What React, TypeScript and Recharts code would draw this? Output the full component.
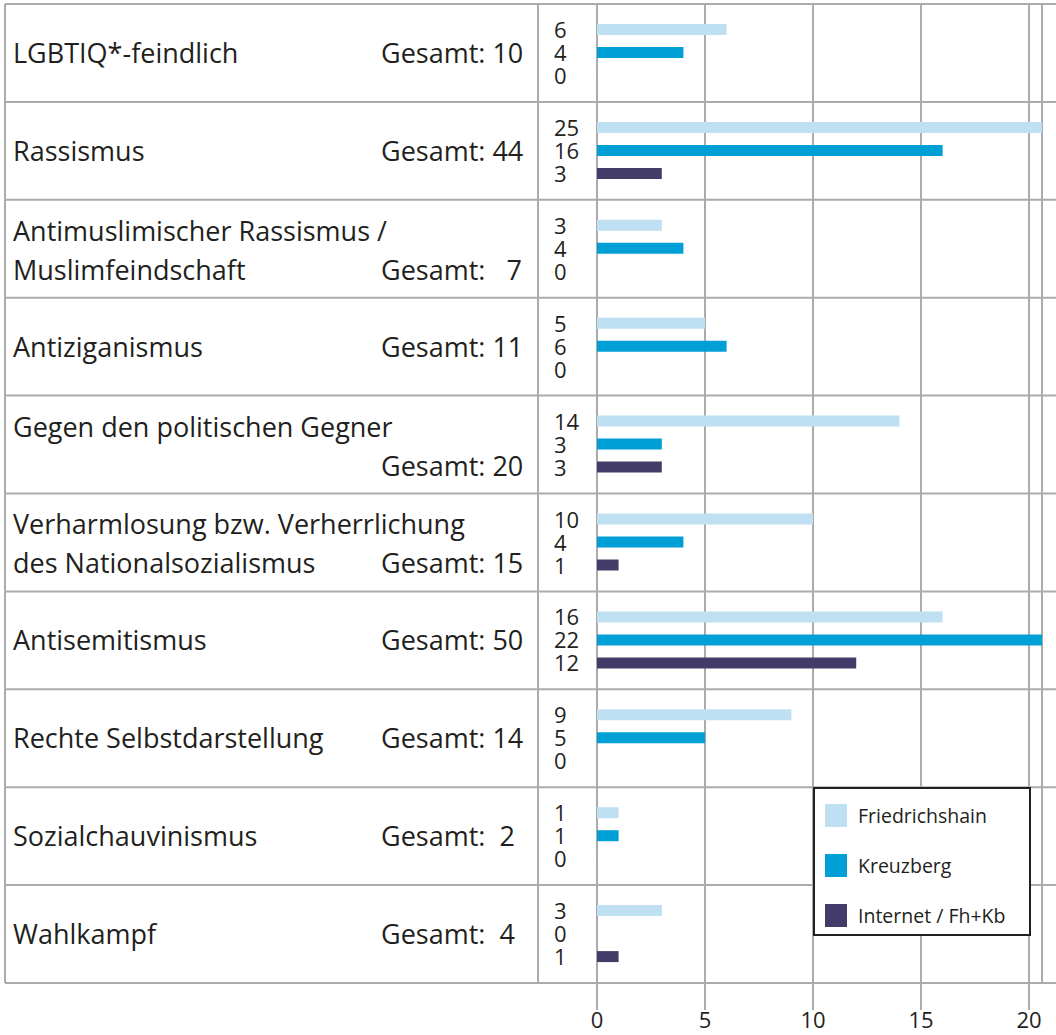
import React from 'react';
import { BarChart, Bar, XAxis, YAxis, CartesianGrid, Legend, LabelList } from 'recharts';

// categories, label lines as printed in the table on the left
const categories = [
    'LGBTIQ*-feindlich',
    'Rassismus',
    'Antimuslimischer Rassismus / Muslimfeindschaft',
    'Antiziganismus',
    'Gegen den politischen Gegner',
    'Verharmlosung bzw. Verherrlichung des Nationalsozialismus',
    'Antisemitismus',
    'Rechte Selbstdarstellung',
    'Sozialchauvinismus',
    'Wahlkampf',
];

const categoryLines = [
    ['LGBTIQ*-feindlich'],
    ['Rassismus'],
    ['Antimuslimischer Rassismus /', 'Muslimfeindschaft'],
    ['Antiziganismus'],
    ['Gegen den politischen Gegner', ''],
    ['Verharmlosung bzw. Verherrlichung', 'des Nationalsozialismus'],
    ['Antisemitismus'],
    ['Rechte Selbstdarstellung'],
    ['Sozialchauvinismus'],
    ['Wahlkampf'],
];

const totalLabels = [
    'Gesamt: 10',
    'Gesamt: 44',
    'Gesamt:   7',
    'Gesamt: 11',
    'Gesamt: 20',
    'Gesamt: 15',
    'Gesamt: 50',
    'Gesamt: 14',
    'Gesamt:  2',
    'Gesamt:  4',
];

const seriesNames = ['Friedrichshain', 'Kreuzberg', 'Internet / Fh+Kb'];
const friedrichshain = [6, 25, 3, 5, 14, 10, 16, 9, 1, 3];
const kreuzberg = [4, 16, 4, 6, 3, 4, 22, 5, 1, 0];
const internet = [0, 3, 0, 0, 3, 1, 12, 0, 0, 1];

const xTicks = [0, 5, 10, 15, 20];

const chartData = categories.map((name, i) => ({
    name,
    fh: friedrichshain[i],
    kb: kreuzberg[i],
    net: internet[i],
}));

const W = 1056;
const H = 1035;
const TOP = 4;
const XAXIS_H = 52;
const LABEL_W = 597;
const ROW_H = (H - TOP - XAXIS_H) / categories.length;

const FONT = '"Open Sans", sans-serif';
const TEXT = '#231f20';
const GRID = '#ababab';

const COLORS = { fh: '#bee0f2', kb: '#00a0d6', net: '#443c68' };

const RowTick = (props: any) => {
    const { y, index } = props;
    const lines = categoryLines[index];
    const top = y - ROW_H / 2;
    const bottom = y + ROW_H / 2;
    const isLast = index === categories.length - 1;
    const lineYs = lines.length === 1 ? [y + 10] : [y - 8, y + 31];
    return (
        <g>
            <line x1={5} x2={W} y1={top} y2={top} stroke={GRID} strokeWidth={2} />
            {isLast && <line x1={5} x2={W} y1={bottom} y2={bottom} stroke={GRID} strokeWidth={2} />}
            <line x1={5} x2={5} y1={top} y2={bottom} stroke={GRID} strokeWidth={2} />
            <line x1={538} x2={538} y1={top} y2={bottom} stroke={GRID} strokeWidth={2} />
            {lines.map((t, k) => (
                <text key={k} x={13} y={lineYs[k]} fontSize={27} fontFamily={FONT} fill={TEXT}>
                    {t}
                </text>
            ))}
            <text
                x={381}
                y={lineYs[lineYs.length - 1]}
                fontSize={27}
                fontFamily={FONT}
                fill={TEXT}
                style={{ whiteSpace: 'pre' }}
            >
                {totalLabels[index]}
            </text>
        </g>
    );
};

const renderValue = (props: any) => {
    const { x, y, height, value } = props;
    return (
        <text x={x - 43} y={y + height / 2 + 8.5} fontSize={22} fontFamily={FONT} fill={TEXT}>
            {value}
        </text>
    );
};

const LegendBox = (props: any) => {
    const payload = [...(props.payload || [])].sort(
        (a: any, b: any) => seriesNames.indexOf(a.value) - seriesNames.indexOf(b.value)
    );
    return (
        <div
            style={{
                width: 218,
                height: 149,
                border: '2px solid #231f20',
                background: '#fff',
                boxSizing: 'border-box',
                paddingTop: 1,
            }}
        >
            {payload.map((p: any) => (
                <div key={p.value} style={{ display: 'flex', alignItems: 'center', height: 50 }}>
                    <div style={{ width: 22, height: 23, background: p.color, marginLeft: 10, marginRight: 11 }} />
                    <span style={{ fontFamily: FONT, fontSize: 19.5, color: TEXT }}>{p.value}</span>
                </div>
            ))}
        </div>
    );
};

const App: React.FC = () => {
    return (
        <div style={{ position: 'absolute', left: 0, top: 0, width: W, height: H, background: '#fff' }}>
            <BarChart
                width={W}
                height={H}
                data={chartData}
                layout="vertical"
                margin={{ top: TOP, right: 14, bottom: 0, left: 0 }}
                barSize={11}
                barGap={12}
            >
                <CartesianGrid horizontal={false} stroke={GRID} strokeWidth={2} />
                <XAxis
                    type="number"
                    domain={[0, 20.6]}
                    ticks={xTicks}
                    allowDataOverflow
                    height={XAXIS_H}
                    axisLine={false}
                    tickSize={27}
                    tickMargin={2}
                    tickLine={{ stroke: GRID, strokeWidth: 2 }}
                    tick={{ fontSize: 22, fontFamily: FONT, fill: TEXT }}
                />
                <YAxis
                    type="category"
                    dataKey="name"
                    width={LABEL_W}
                    axisLine={false}
                    tickLine={false}
                    interval={0}
                    tick={<RowTick />}
                />
                <Legend
                    layout="vertical"
                    align="center"
                    verticalAlign="middle"
                    content={<LegendBox />}
                    wrapperStyle={{ position: 'absolute', left: 813, top: 787, width: 218, bottom: 'auto', right: 'auto' }}
                />
                <Bar dataKey="fh" name={seriesNames[0]} fill={COLORS.fh} minPointSize={0.01} isAnimationActive={false}>
                    <LabelList dataKey="fh" content={renderValue} />
                </Bar>
                <Bar dataKey="kb" name={seriesNames[1]} fill={COLORS.kb} minPointSize={0.01} isAnimationActive={false}>
                    <LabelList dataKey="kb" content={renderValue} />
                </Bar>
                <Bar dataKey="net" name={seriesNames[2]} fill={COLORS.net} minPointSize={0.01} isAnimationActive={false}>
                    <LabelList dataKey="net" content={renderValue} />
                </Bar>
            </BarChart>
        </div>
    );
};

export default App;
